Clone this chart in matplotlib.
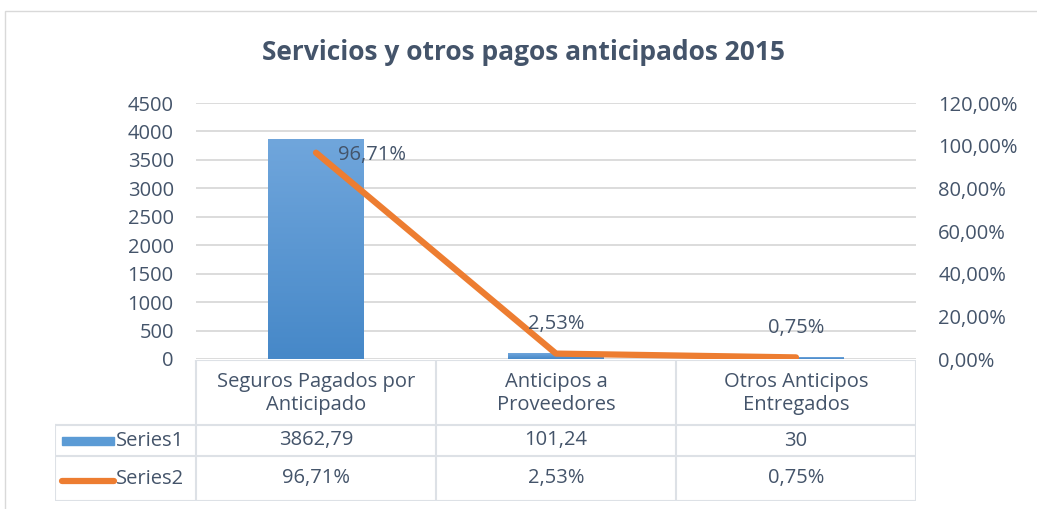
import matplotlib.pyplot as plt
import numpy as np
from matplotlib.patches import Rectangle
from matplotlib.colors import LinearSegmentedColormap

categories = ['Seguros Pagados por\nAnticipado', 'Anticipos a\nProveedores', 'Otros Anticipos\nEntregados']
series1 = [3862.79, 101.24, 30]
series2 = [0.9671, 0.0253, 0.0075]
series1_labels = ['3862,79', '101,24', '30']
series2_labels = ['96,71%', '2,53%', '0,75%']
left_ticks = np.arange(0, 4501, 500)
right_ticks = np.arange(0, 1.21, 0.2)

txt = '#44546A'
grid = '#D9D9D9'
blue = '#5B9BD5'
orange = '#ED7D31'
fs = 14.5
plt.rcParams['font.family'] = ['Open Sans', 'DejaVu Sans']

W, H = 1037, 509
fig = plt.figure(figsize=(W / 100, H / 100), dpi=100)

def box(x0, y0, x1, y1):
    return [x0 / W, 1 - y1 / H, (x1 - x0) / W, (y1 - y0) / H]

# chart border
fig.patches.append(Rectangle((5 / W, -0.01), 1.0, 1 - 11 / H + 0.01, transform=fig.transFigure,
                             fill=False, edgecolor='#D9D9D9', lw=1))

fig.text(524 / W, 1 - 52 / H, 'Servicios y otros pagos anticipados 2015', ha='center', va='center',
         fontsize=19, fontweight='bold', color=txt)

ax = fig.add_axes(box(196, 103, 916, 359))
x = np.arange(len(categories))
bars = ax.bar(x, series1, width=0.4, color=blue, zorder=2)
# soft vertical gradient on the bar
grad = np.linspace(0, 1, 256).reshape(-1, 1)
cmap = LinearSegmentedColormap.from_list('g', ['#4688C8', '#70A6DC'])
for b in bars:
    im = ax.imshow(grad, cmap=cmap, aspect='auto', origin='lower', zorder=2.1,
                   extent=[b.get_x(), b.get_x() + b.get_width(), 0, b.get_height()])
    im.set_clip_path(b)
ax.set_xlim(-0.5, 2.5)
ax.set_ylim(0, 4500)
ax.set_yticks(left_ticks)
ax.set_yticklabels([str(t) for t in left_ticks])
ax.set_xticks([])
ax.tick_params(axis='y', length=0, labelsize=fs, labelcolor=txt, pad=16)
ax.grid(axis='y', color=grid, lw=1.3, zorder=0)
for s in ax.spines.values():
    s.set_visible(False)

ax2 = ax.twinx()
ax2.plot(x, series2, color=orange, lw=4.5, solid_capstyle='round', zorder=3)
ax2.set_ylim(0, 1.2)
ax2.set_yticks(right_ticks)
ax2.set_yticklabels([f'{t * 100:.2f}%'.replace('.', ',') for t in right_ticks])
ax2.tick_params(axis='y', length=0, labelsize=fs, labelcolor=txt, pad=16)
for s in ax2.spines.values():
    s.set_visible(False)
ax2.annotate(series2_labels[0], (x[0], series2[0]), xytext=(16, -2), textcoords='offset points',
             ha='left', va='center', fontsize=fs, color=txt)
for i in (1, 2):
    ax2.annotate(series2_labels[i], (x[i], series2[i]), xytext=(0, 14), textcoords='offset points',
                 ha='center', va='bottom', fontsize=fs, color=txt)

# data table under the chart
axt = fig.add_axes(box(55, 360, 916, 501))
lc = 141 / 240
axt.set_xlim(-0.5 - lc, 2.5)
axt.set_ylim(501, 360)
axt.axis('off')
rows = [360, 425, 456, 501]
edges = [-0.5 - lc, -0.5, 0.5, 1.5, 2.5]
lk = dict(color='#DDE1E6', lw=1.5)
for j, yy in enumerate(rows):
    x0 = edges[1] if j == 0 else edges[0]
    axt.plot([x0, edges[-1]], [yy, yy], **lk)
for k, ex in enumerate(edges):
    axt.plot([ex, ex], [rows[1] if k == 0 else rows[0], rows[-1]], **lk)
for i, c in enumerate(categories):
    axt.text(x[i], (rows[0] + rows[1]) / 2 + 1, c, ha='center', va='center', fontsize=fs,
             color=txt, linespacing=1.2)
    axt.text(x[i], (rows[1] + rows[2]) / 2, series1_labels[i], ha='center', va='center',
             fontsize=fs, color=txt)
    axt.text(x[i], (rows[2] + rows[3]) / 2, series2_labels[i], ha='center', va='center',
             fontsize=fs, color=txt)
px = lambda p: -0.5 - lc + (p - 55) / 240
axt.add_patch(Rectangle((px(62), 437), px(114) - px(62), 8, color=blue))
axt.plot([px(62), px(114)], [481, 481], color=orange, lw=4.5, solid_capstyle='round')
axt.text(px(116), (rows[1] + rows[2]) / 2, 'Series1', ha='left', va='center', fontsize=fs, color=txt)
axt.text(px(116), (rows[2] + rows[3]) / 2, 'Series2', ha='left', va='center', fontsize=fs, color=txt)

fig.savefig('out.png', dpi=100)
